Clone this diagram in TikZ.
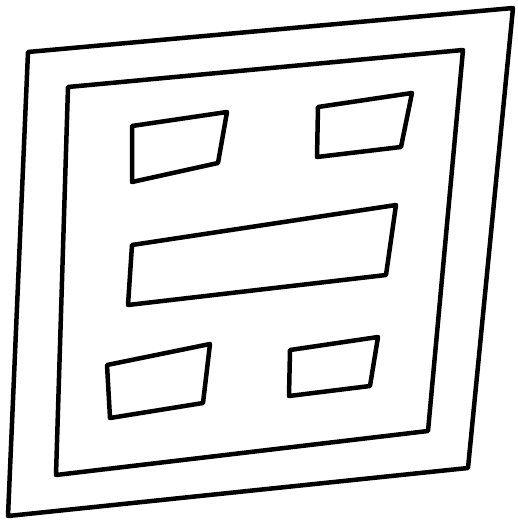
\documentclass[tikz,border=0pt]{standalone}
\begin{document}
\begin{tikzpicture}[x=1pt,y=-1pt,
  sketch/.style={draw=black,line width=4.5pt,line join=round,line cap=round}]
\useasboundingbox (0,0) rectangle (518,527);
% outer frame
\draw[sketch] (28,52) -- (513,8) -- (468,468) -- (8,516) -- cycle;
% inner frame
\draw[sketch] (68,87) -- (463,50) -- (428,431) -- (56,475) -- cycle;
% top-left box
\draw[sketch] (132,126) -- (227,112) -- (218,163) -- (132,182) -- cycle;
% top-right box
\draw[sketch] (318,107) -- (412,93) -- (401,147) -- (317,157) -- cycle;
% middle wide box
\draw[sketch] (132,245) -- (396,205) -- (386,275) -- (128,305) -- cycle;
% bottom-left box
\draw[sketch] (107,365) -- (210,344) -- (203,403) -- (110,418) -- cycle;
% bottom-right box
\draw[sketch] (290,350) -- (378,337) -- (370,386) -- (289,396) -- cycle;
\end{tikzpicture}
\end{document}
